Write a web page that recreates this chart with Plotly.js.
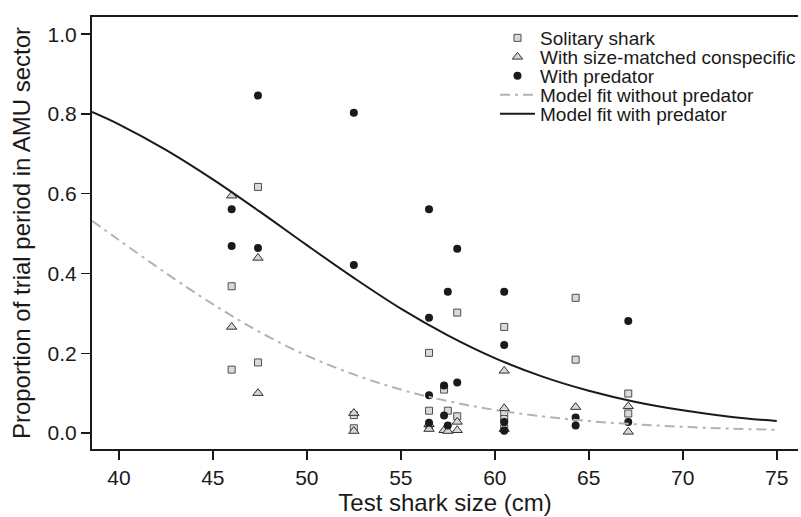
<!DOCTYPE html>
<html>
<head>
<meta charset="utf-8">
<script src="https://cdn.plot.ly/plotly-3.0.1.min.js"></script>
<style>html,body{margin:0;padding:0;background:#fff;}#chart{width:801px;height:517px;}</style>
</head>
<body>
<div id="chart"></div>
<script>
// Solitary shark
const soloX = [46.0, 46.0, 47.4, 47.4, 52.5, 52.5, 56.5, 56.5, 56.5, 57.3, 57.5, 58.0, 58.0, 60.5, 60.5, 60.5, 60.5, 64.3, 64.3, 67.1, 67.1];
const soloY = [0.368, 0.159, 0.617, 0.177, 0.045, 0.012, 0.201, 0.056, 0.015, 0.109, 0.056, 0.302, 0.042, 0.266, 0.052, 0.035, 0.012, 0.339, 0.184, 0.099, 0.049];
// With size-matched conspecific
const consX = [46.0, 46.0, 47.4, 47.4, 52.5, 52.5, 56.5, 56.5, 57.3, 57.5, 58.0, 58.0, 60.5, 60.5, 60.5, 64.3, 67.1, 67.1];
const consY = [0.595, 0.266, 0.439, 0.100, 0.050, 0.005, 0.022, 0.010, 0.007, 0.005, 0.028, 0.007, 0.156, 0.062, 0.010, 0.065, 0.067, 0.003];
// With predator
const predX = [46.0, 46.0, 47.4, 47.4, 52.5, 52.5, 56.5, 56.5, 56.5, 56.5, 57.3, 57.3, 57.5, 57.5, 58.0, 58.0, 60.5, 60.5, 60.5, 60.5, 64.3, 64.3, 67.1, 67.1];
const predY = [0.561, 0.469, 0.846, 0.464, 0.803, 0.421, 0.561, 0.289, 0.095, 0.026, 0.119, 0.044, 0.354, 0.019, 0.462, 0.127, 0.354, 0.221, 0.028, 0.006, 0.039, 0.019, 0.281, 0.028];
// Model fits
const fitX = [38.57, 40, 42.5, 45, 47.5, 50, 52.5, 55, 57.5, 60, 62.5, 65, 67.5, 70, 72.5, 75];
const fitNoPred = [0.532, 0.484, 0.401, 0.323, 0.253, 0.194, 0.147, 0.109, 0.080, 0.058, 0.042, 0.030, 0.022, 0.0156, 0.0112, 0.008];
const fitPred = [0.805, 0.774, 0.710, 0.636, 0.555, 0.471, 0.389, 0.312, 0.245, 0.188, 0.142, 0.106, 0.078, 0.057, 0.041, 0.030];

const FONT = "Liberation Sans, Arial, Helvetica, sans-serif";
const INK = '#1a1a1a';

const traces = [
  {x: soloX, y: soloY, type: 'scatter', mode: 'markers', name: 'Solitary shark', legend: 'legend',
   marker: {symbol: 'square', size: 7, color: '#dadada', line: {color: '#4d4d4d', width: 1}}},
  {x: consX, y: consY, type: 'scatter', mode: 'markers', name: 'With size-matched conspecific', legend: 'legend2',
   marker: {symbol: 'triangle-up', size: 9, color: '#d6d6d6', line: {color: '#333333', width: 1}}},
  {x: predX, y: predY, type: 'scatter', mode: 'markers', name: 'With predator', legend: 'legend3',
   marker: {symbol: 'circle', size: 8, color: INK, line: {width: 0}}},
  {x: fitX, y: fitNoPred, type: 'scatter', mode: 'lines', name: 'Model fit without predator', legend: 'legend4',
   line: {color: '#b3b3b3', width: 2, dash: '10px,5px,3px,5px', shape: 'spline'}},
  {x: fitX, y: fitPred, type: 'scatter', mode: 'lines', name: 'Model fit with predator', legend: 'legend5',
   line: {color: INK, width: 2, shape: 'spline'}}
];

// legend rows centred at 38, 57, 76, 95, 114 px from top of the page
function leg(rowPx) {
  const yPaper = 1 - (rowPx - 17) / 432;
  return {x: 0.5708, y: yPaper, xanchor: 'left', yanchor: 'middle', bgcolor: 'rgba(0,0,0,0)',
          borderwidth: 0, itemwidth: 35, font: {family: FONT, size: 19, color: INK}};
}

const layout = {
  width: 801, height: 517,
  margin: {l: 92, r: 0, t: 17, b: 68, pad: 0},
  paper_bgcolor: '#ffffff', plot_bgcolor: '#ffffff',
  font: {family: FONT, color: INK, size: 16},
  showlegend: true,
  legend: leg(38), legend2: leg(57), legend3: leg(76), legend4: leg(95), legend5: leg(114),
  xaxis: {
    range: [38.57, 76.13], tickvals: [40, 45, 50, 55, 60, 65, 70, 75],
    ticktext: ['40', '45', '50', '55', '60', '65', '70', '75'],
    showgrid: false, zeroline: false, showline: true, linecolor: INK, linewidth: 2,
    mirror: true, ticks: 'outside', ticklen: 9, tickwidth: 1.5, tickcolor: INK,
    tickfont: {family: FONT, size: 21, color: INK},
    title: {text: 'Test shark size (cm)', font: {family: FONT, size: 24, color: INK}, standoff: 4}
  },
  yaxis: {
    range: [-0.040, 1.043], tickvals: [0, 0.2, 0.4, 0.6, 0.8, 1.0],
    ticktext: ['0.0', '0.2', '0.4', '0.6', '0.8', '1.0'],
    showgrid: false, zeroline: false, showline: true, linecolor: INK, linewidth: 2,
    mirror: false, ticks: 'outside', ticklen: 9, tickwidth: 1.5, tickcolor: INK,
    tickfont: {family: FONT, size: 21, color: INK},
    title: {text: 'Proportion of trial period in AMU sector', font: {family: FONT, size: 24, color: INK}, standoff: 10}
  }
};

Plotly.newPlot('chart', traces, layout, {staticPlot: true, displayModeBar: false});
</script>
</body>
</html>
